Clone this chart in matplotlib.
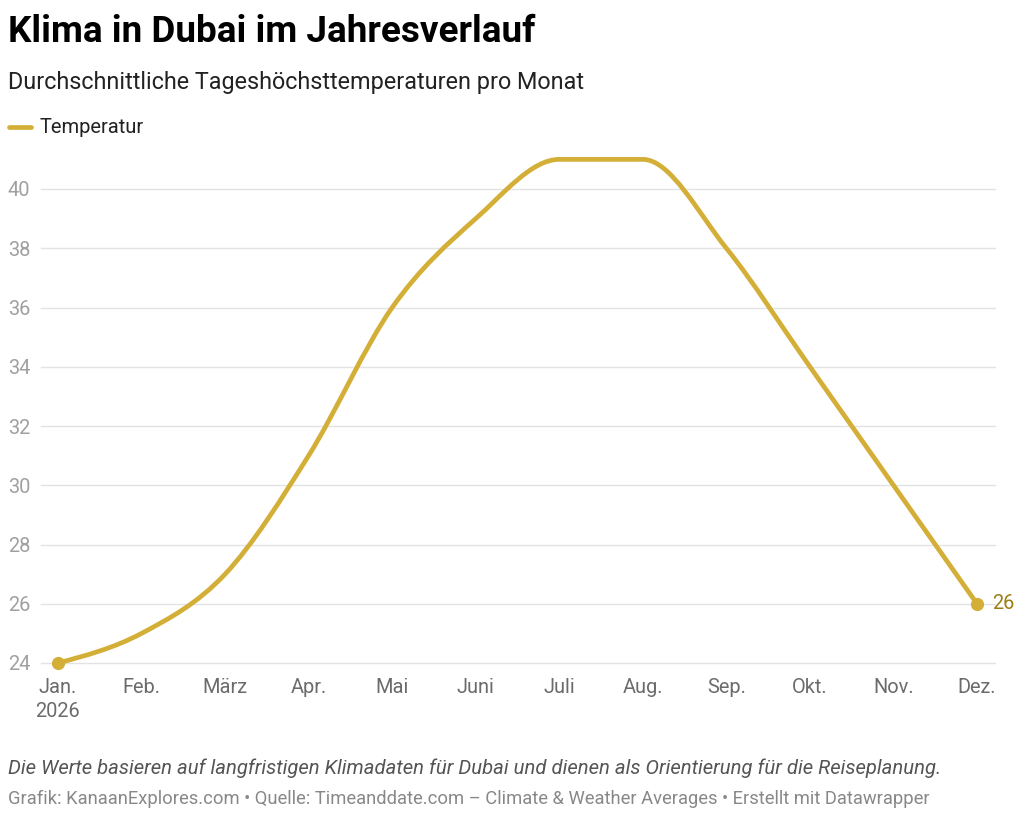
import numpy as np
import matplotlib
matplotlib.use("Agg")
import matplotlib.pyplot as plt
from matplotlib.path import Path
from matplotlib.patches import PathPatch

# ── data ─────────────────────────────────────────────────────────────────────
months = ["Jan.\n2026", "Feb.", "März", "Apr.", "Mai", "Juni",
          "Juli", "Aug.", "Sep.", "Okt.", "Nov.", "Dez."]
temps = [24, 25, 27, 31, 36, 39, 41, 41, 38, 34, 30, 26]
yticks = [24, 26, 28, 30, 32, 34, 36, 38, 40]

GOLD = "#D4AF37"
LABEL_GOLD = "#9C7F12"
GRID = "#E3E3E3"

plt.rcParams["font.family"] = ["Roboto", "DejaVu Sans"]


def monotone_path(x, y):
    """Cubic Bezier path through the points, like d3.curveMonotoneX."""
    x = np.asarray(x, float)
    y = np.asarray(y, float)
    n = len(x)
    h = np.diff(x)
    s = np.diff(y) / h
    t = np.zeros(n)
    for i in range(1, n - 1):
        p = (s[i - 1] * h[i] + s[i] * h[i - 1]) / (h[i - 1] + h[i])
        t[i] = (np.sign(s[i - 1]) + np.sign(s[i])) * min(abs(s[i - 1]), abs(s[i]), 0.5 * abs(p))
    t[0] = (3 * s[0] - t[1]) / 2
    t[-1] = (3 * s[-1] - t[-2]) / 2
    verts = [(x[0], y[0])]
    codes = [Path.MOVETO]
    for i in range(n - 1):
        dx = h[i] / 3
        verts += [(x[i] + dx, y[i] + dx * t[i]),
                  (x[i + 1] - dx, y[i + 1] - dx * t[i + 1]),
                  (x[i + 1], y[i + 1])]
        codes += [Path.CURVE4] * 3
    return Path(verts, codes)


fig = plt.figure(figsize=(10.24, 8.18), dpi=100, facecolor="white")
W, H = 1024, 818
# axes: x 41..995 px, y 153..663 px
ax = fig.add_axes([41 / W, 1 - 663 / H, (995 - 41) / W, (663 - 153) / H])

xs = np.arange(len(temps))
ax.set_xlim(-17 / 83.55, 11 + 18 / 83.55)
ax.set_ylim(24, 24 + 510 / 29.625)

for v in yticks:
    ax.axhline(v, color=GRID, lw=1.0, zorder=1, clip_on=False)

patch = PathPatch(monotone_path(xs, temps), fill=False, edgecolor=GOLD,
                  lw=3.4, capstyle="round", joinstyle="round", zorder=3, clip_on=False)
ax.add_patch(patch)
ax.plot([xs[0], xs[-1]], [temps[0], temps[-1]], "o", color=GOLD, ms=8.5,
        zorder=4, clip_on=False)
ax.annotate(f"{temps[-1]}", xy=(xs[-1], temps[-1]), xytext=(11, 0),
            textcoords="offset points", ha="left", va="center",
            fontsize=14.4, color=LABEL_GOLD, annotation_clip=False)

for sp in ax.spines.values():
    sp.set_visible(False)
ax.set_xticks(xs)
ax.set_xticklabels(months, fontsize=14.4, color="#6B6B6B", linespacing=1.3)
ax.set_yticks(yticks)
ax.set_yticklabels([str(v) for v in yticks], fontsize=14.4, color="#A0A0A0", ha="left")
ax.tick_params(axis="x", length=0, pad=11)
ax.tick_params(axis="y", length=0, pad=23.8)

# ── header ───────────────────────────────────────────────────────────────────
fig.text(8 / W, 1 - 42 / H, "Klima in Dubai im Jahresverlauf", fontsize=26.6,
         fontweight="bold", color="#000000", ha="left", va="baseline")
fig.text(8 / W, 1 - 89 / H, "Durchschnittliche Tageshöchsttemperaturen pro Monat",
         fontsize=16.8, color="#222222", ha="left", va="baseline")
fig.add_artist(plt.Line2D([9 / W, 31 / W], [1 - 127 / H, 1 - 127 / H],
                          color=GOLD, lw=3.4, solid_capstyle="round"))
fig.text(40 / W, 1 - 133 / H, "Temperatur", fontsize=14.5, color="#222222",
         ha="left", va="baseline")

# ── footer ───────────────────────────────────────────────────────────────────
fig.text(8 / W, 1 - 774 / H,
         "Die Werte basieren auf langfristigen Klimadaten für Dubai und dienen als "
         "Orientierung für die Reiseplanung.",
         fontsize=14.6, style="italic", color="#555555", ha="left", va="baseline")
fig.text(8 / W, 1 - 804 / H,
         "Grafik: KanaanExplores.com • Quelle: Timeanddate.com – Climate & Weather "
         "Averages • Erstellt mit Datawrapper",
         fontsize=13.2, color="#888888", ha="left", va="baseline")

fig.savefig("out.png", dpi=100, facecolor="white")
